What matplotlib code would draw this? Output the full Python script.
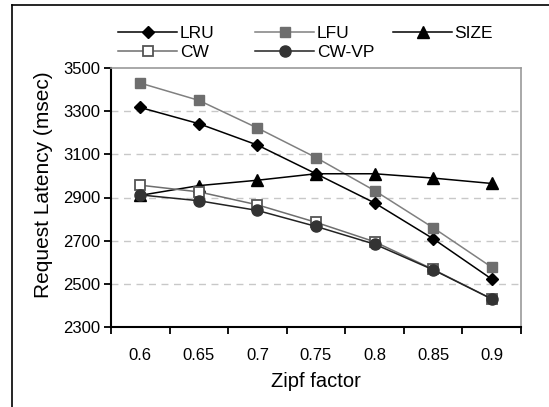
import matplotlib
matplotlib.use("Agg")
import matplotlib.pyplot as plt
import numpy as np
from matplotlib.lines import Line2D

plt.rcParams['font.family'] = ['Liberation Sans', 'DejaVu Sans']

zipf = ['0.6', '0.65', '0.7', '0.75', '0.8', '0.85', '0.9']
lru = [3317, 3242, 3143, 3010, 2875, 2709, 2522]
lfu = [3430, 3350, 3222, 3085, 2932, 2760, 2577]
size = [2910, 2955, 2980, 3010, 3010, 2990, 2965]
cw = [2957, 2926, 2866, 2785, 2695, 2567, 2430]
cwvp = [2912, 2885, 2840, 2766, 2684, 2565, 2430]

styles = [
    ('LRU', lru, dict(color='black', marker='D', ms=6.5, mfc='black', mec='black')),
    ('LFU', lfu, dict(color='#808080', marker='s', ms=7, mfc='#6e6e6e', mec='#6e6e6e')),
    ('SIZE', size, dict(color='black', marker='^', ms=8, mfc='black', mec='black')),
    ('CW', cw, dict(color='#6e6e6e', marker='s', ms=7, mfc='white', mec='#555555', mew=1.3)),
    ('CW-VP', cwvp, dict(color='#222222', marker='o', ms=8, mfc='#333333', mec='#333333')),
]

fig = plt.figure(figsize=(5.49, 4.07), dpi=100)
ax = fig.add_axes([111 / 549, 1 - 327 / 407, 410 / 549, 259 / 407])

x = np.arange(len(zipf))
handles = []
for name, vals, st in styles:
    h, = ax.plot(x, vals, lw=1.1, label=name, **st)
    handles.append(h)

ax.set_xlim(-0.5, len(zipf) - 0.5)
ax.set_ylim(2300, 3500)
ax.set_yticks(np.arange(2300, 3501, 200))
ax.set_xticks(np.arange(-0.5, len(zipf), 1.0))
ax.set_xticklabels([])
ax.set_xticks(x, minor=True)
ax.set_xticklabels(zipf, minor=True)
ax.tick_params(axis='x', which='major', direction='out', length=5, width=1.3)
ax.tick_params(axis='x', which='minor', length=0, pad=15, labelsize=12)
ax.tick_params(axis='y', direction='out', length=5, width=1.3, labelsize=12, pad=3)

for yv in range(2500, 3500, 200):
    ax.axhline(yv, color='#c8c8c8', lw=1, ls=(0, (5, 4)), zorder=0)

ax.spines['left'].set_linewidth(1.5)
ax.spines['bottom'].set_linewidth(1.5)
ax.spines['top'].set_color('#999999')
ax.spines['right'].set_color('#999999')
ax.spines['top'].set_linewidth(1.2)
ax.spines['right'].set_linewidth(1.2)

ax.set_xlabel('Zipf factor', fontsize=14.5)
ax.xaxis.set_label_coords(0.5, -0.175)
ax.set_ylabel('Request Latency (msec)', fontsize=15)
ax.yaxis.set_label_coords(-0.142, 0.548)

# legend: three equal-width columns like the original
cols = [[0, 3], [1, 4], [2]]
col_x = [118 / 549, 255 / 549, 393 / 549]
for xi, idx in zip(col_x, cols):
    fig.legend([handles[i] for i in idx], [styles[i][0] for i in idx],
               loc='upper left', bbox_to_anchor=(xi, 1 - 26 / 407),
               frameon=False, fontsize=12.5, handlelength=3.4,
               handletextpad=0.15, labelspacing=0.2, borderaxespad=0,
               borderpad=0)

# outer frame (top and left edges visible)
fig.add_artist(Line2D([12 / 549, 12 / 549], [0, 1 - 5 / 407], color='black', lw=1.2,
                      transform=fig.transFigure))
fig.add_artist(Line2D([12 / 549, 1], [1 - 5 / 407, 1 - 5 / 407], color='black', lw=1.2,
                      transform=fig.transFigure))

fig.savefig('out.png', dpi=100)
